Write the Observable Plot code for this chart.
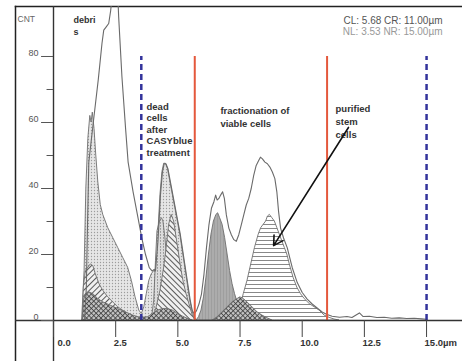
<!DOCTYPE html>
<html>
<head>
<meta charset="utf-8">
<script src="https://cdn.jsdelivr.net/npm/d3@7"></script>
<script src="https://cdn.jsdelivr.net/npm/@observablehq/plot@0.6"></script>
<style>
  html, body { margin: 0; padding: 0; background: #fff; }
  #chart { position: absolute; left: 0; top: 0; }
</style>
</head>
<body>
<svg width="0" height="0" style="position:absolute">
  <defs>
    <pattern id="dots" width="3" height="3" patternUnits="userSpaceOnUse">
      <rect width="3" height="3" fill="#e6e6e6"/>
      <circle cx="1.5" cy="1.5" r="0.65" fill="#9c9c9c"/>
    </pattern>
    <pattern id="vdots" width="3" height="3" patternUnits="userSpaceOnUse">
      <rect width="3" height="3" fill="#dcdcdc"/>
      <rect x="1" y="0" width="0.8" height="1.8" fill="#8a8a8a"/>
    </pattern>
    <pattern id="diagA" width="4" height="4" patternUnits="userSpaceOnUse" patternTransform="rotate(45)">
      <rect width="4" height="4" fill="#f0f0f0"/>
      <line x1="0.5" y1="0" x2="0.5" y2="4" stroke="#5a5a5a" stroke-width="1"/>
    </pattern>
    <pattern id="diagB" width="4" height="4" patternUnits="userSpaceOnUse" patternTransform="rotate(-45)">
      <rect width="4" height="4" fill="#f0f0f0"/>
      <line x1="0.5" y1="0" x2="0.5" y2="4" stroke="#5a5a5a" stroke-width="1"/>
    </pattern>
    <pattern id="cross" width="3.4" height="3.4" patternUnits="userSpaceOnUse" patternTransform="rotate(45)">
      <rect width="3.4" height="3.4" fill="#c4c4c4"/>
      <path d="M0 0.5H3.4M0.5 0V3.4" stroke="#3a3a3a" stroke-width="0.8"/>
    </pattern>
    <pattern id="vlines" width="3" height="3" patternUnits="userSpaceOnUse">
      <rect width="3" height="3" fill="#acacac"/>
      <line x1="1.5" y1="0" x2="1.5" y2="3" stroke="#9a9a9a" stroke-width="0.8"/>
    </pattern>
    <pattern id="hlines" width="4" height="4" patternUnits="userSpaceOnUse">
      <rect width="4" height="4" fill="#ffffff"/>
      <line x1="0" y1="0.5" x2="4" y2="0.5" stroke="#7a7a7a" stroke-width="0.9"/>
    </pattern>
  </defs>
</svg>
<div id="chart"></div>
<script>
// ---- data ----
const xTicks = [0, 2.5, 5, 7.5, 10, 12.5, 15];
const xTickLabels = ["0.0", "2.5", "5.0", "7.5", "10.0", "12.5", "15.0µm"];
const yMajorTicks = [0, 20, 40, 60, 80];
const yMinorTicks = [10, 30, 50, 70];

const gateNL = 3.53, gateCL = 5.68, gateCR = 11.00, gateNR = 15.00;
const gateText1 = "CL: 5.68 CR: 11.00µm";
const gateText2 = "NL: 3.53 NR: 15.00µm";

// total / debris outline
const totalCurve = [
  [1.25,0],[1.32,10],[1.37,30],[1.42,48],[1.6,60],[1.8,73],[1.95,84],[2.02,88],[2.12,89],[2.22,90],
  [2.3,94],[2.38,100],[2.45,105],[2.55,105],[2.62,92],[2.75,74],[2.9,58],[3.0,48],[3.2,39],[3.4,31],
  [3.55,25],[3.7,20],[3.85,16],[3.97,15],[4.05,15.5],[4.1,15],[4.2,24],[4.3,38],[4.38,45],[4.45,47.5],
  [4.52,47.5],[4.6,46],[4.7,42],[4.8,38],[4.9,34],[5.0,30],[5.1,26],[5.2,21],[5.3,16],[5.4,11],
  [5.5,6],[5.58,3],[5.66,2],[5.75,3],[5.85,5],[5.95,8],[6.05,14],[6.15,22],[6.25,29],[6.35,34],
  [6.45,36],[6.52,38],[6.58,36.5],[6.65,37],[6.72,38],[6.8,39],[6.87,37],[6.95,32],[7.05,28],[7.15,26],
  [7.25,24.5],[7.35,24],[7.45,26],[7.55,29],[7.65,32],[7.75,35],[7.85,37],[7.95,40],[8.05,44],[8.15,47],
  [8.25,48.5],[8.32,49.5],[8.4,49],[8.5,48],[8.6,47.5],[8.7,46.5],[8.8,45],[8.9,43],[8.98,39],[9.05,33],
  [9.13,28],[9.25,25],[9.4,22],[9.5,19],[9.6,16],[9.8,11.5],[10.0,8.5],[10.2,6.5],[10.4,5],[10.6,3.8],
  [10.8,2.6],[11.0,1.8],[11.2,1.3],[11.5,1.0],[11.8,1.2],[12.0,0.9],[12.15,1.6],[12.3,2.3],[12.45,1.2],[12.7,1.3],
  [13.0,0.9],[13.3,1.0],[13.6,0.7],[13.9,0.8],[14.2,0.6],[14.5,0.7],[14.8,0.5],[15.0,0.4]
];
// dead-cell measurement (dotted fill)
const deadCurve = [
  [1.15,0],[1.25,15],[1.32,40],[1.4,55],[1.48,62],[1.53,60],[1.58,63],[1.65,58],[1.72,50],[1.8,42],
  [1.9,35],[2.0,32],[2.2,28],[2.4,25],[2.6,22],[2.8,19],[3.0,16],[3.15,12],[3.3,7],[3.45,3],
  [3.55,2],[3.65,4],[3.75,8],[3.85,12],[3.95,14],[4.05,15],[4.12,15],[4.2,24],[4.3,38],[4.38,45],
  [4.45,47.5],[4.52,47.5],[4.6,46],[4.7,42],[4.8,38],[4.9,34],[5.0,30],[5.1,26],[5.2,21],[5.3,16],
  [5.4,11],[5.5,6],[5.6,2.5],[5.7,0.5],[5.8,0]
];
const debrisHatch = [
  [1.18,0],[1.22,10],[1.3,15],[1.4,16],[1.5,17],[1.6,16.5],[1.7,14],[1.85,11],[2.0,9],[2.2,7],
  [2.4,5.5],[2.6,4],[2.8,3],[3.0,2],[3.2,1.2],[3.4,0.5],[3.6,0]
];
const lowCross = [
  [1.18,0],[1.22,6],[1.3,8],[1.45,8.5],[1.6,8],[1.8,6.5],[2.0,5.5],[2.3,4.5],[2.6,3.5],[2.9,2.5],
  [3.2,1.5],[3.5,0.8],[3.8,1],[4.0,2],[4.2,3],[4.4,3.5],[4.6,3.5],[4.8,3],[5.0,2],[5.2,1.2],[5.4,0.5],[5.6,0]
];
const deadPeakA = [
  [3.95,0],[4.05,6],[4.12,18],[4.18,27],[4.28,30],[4.36,31],[4.42,30],[4.5,25],[4.58,18],[4.7,12],
  [4.85,7],[5.0,4],[5.2,2],[5.4,0.5],[5.5,0]
];
const deadPeakB = [
  [4.0,0],[4.15,4],[4.3,9],[4.45,16],[4.55,22],[4.65,29],[4.75,32],[4.85,30],[4.95,25],[5.05,20],
  [5.15,15],[5.25,11],[5.35,8],[5.5,4],[5.6,1.5],[5.7,0]
];
const viableGray = [
  [5.75,0],[5.85,1],[5.95,3],[6.05,7],[6.15,13],[6.25,20],[6.35,26],[6.45,30],[6.55,32],[6.62,32.5],
  [6.7,31],[6.8,29],[6.9,25],[7.0,20],[7.1,15],[7.2,11],[7.3,8],[7.4,5.5],[7.5,3.5],[7.6,2],[7.75,1],[7.9,0]
];
const viableHill = [
  [6.4,0],[6.6,1],[6.8,2.5],[7.0,4],[7.2,5.5],[7.4,6.5],[7.5,7],[7.6,6.8],[7.8,5.5],[8.0,4],
  [8.2,2.5],[8.4,1.5],[8.6,0.7],[8.8,0]
];
const stemStriped = [
  [7.0,0],[7.2,1.5],[7.4,3],[7.55,5],[7.65,8],[7.8,12],[7.95,17],[8.1,22],[8.25,26],[8.35,28],
  [8.45,29],[8.55,30],[8.62,31.5],[8.7,32],[8.8,31],[8.9,30],[9.0,28],[9.1,26],[9.2,24],[9.3,22],
  [9.4,20],[9.5,17],[9.65,13],[9.8,10],[9.95,8],[10.1,6.5],[10.3,5],[10.5,4],[10.7,3],[10.9,1.5],
  [11.1,0.8],[11.3,0.3],[11.5,0]
];

const labelDebris = "debri\ns";
const labelDead = "dead\ncells\nafter\nCASYblue\ntreatment";
const labelViable = "fractionation of\nviable cells";
const labelStem = "purified\nstem\ncells";

// ---- chart ----
const grayStroke = "#6e6e6e";
const area = (data, fill) => Plot.areaY(data, {x: d => d[0], y: d => d[1], fill, stroke: grayStroke, strokeWidth: 0.9, clip: true});

const chart = Plot.plot({
  width: 462,
  height: 361,
  marginLeft: 15,
  marginRight: 0,
  marginTop: 6,
  marginBottom: 0,
  x: {domain: [-1.528, 16.445], axis: null},
  y: {domain: [-12.42, 95.15], axis: null},
  style: {fontFamily: "'Liberation Sans', Arial, sans-serif", background: "#fff"},
  marks: [
    // frame pieces
    Plot.frame({anchor: "left", stroke: "#222", strokeWidth: 1.5}),
    Plot.frame({anchor: "top", stroke: "#222", strokeWidth: 1.5}),
    // filled distributions
    area(deadCurve, "url(#dots)"),
    area(debrisHatch, "url(#diagA)"),
    area(deadPeakA, "url(#vdots)"),
    area(deadPeakB, "url(#diagB)"),
    area(lowCross, "url(#cross)"),
    area(viableGray, "url(#vlines)"),
    area(stemStriped, "url(#hlines)"),
    area(viableHill, "url(#cross)"),
    // outline of total measurement
    Plot.line(totalCurve, {x: d => d[0], y: d => d[1], stroke: "#6a6a6a", strokeWidth: 1.1, clip: true}),
    // gates
    Plot.ruleX([gateNL, gateNR], {y1: 0, y2: 80, stroke: "#33339c", strokeWidth: 2.5, strokeDasharray: "6,4"}),
    Plot.ruleX([gateCL, gateCR], {y1: 0, y2: 80, stroke: "#e4583c", strokeWidth: 2}),
    // axes lines
    Plot.ruleX([0], {stroke: "#333", strokeWidth: 1.4}),
    Plot.ruleY([0], {stroke: "#333", strokeWidth: 1.6}),
    // y ticks
    Plot.ruleY(yMajorTicks, {y: d => d, x1: -0.48, x2: 0, stroke: "#555", strokeWidth: 1}),
    Plot.ruleY(yMinorTicks, {y: d => d, x1: -0.26, x2: 0, stroke: "#555", strokeWidth: 1}),
    Plot.text(yMajorTicks, {y: d => d, frameAnchor: "left", dx: 23, dy: -3, textAnchor: "end", text: d => String(d), fontSize: 9, fill: "#555"}),
    // x ticks
    Plot.ruleX(xTicks, {x: d => d, y1: 0, y2: -5.15, stroke: "#444", strokeWidth: 1}),
    Plot.text(xTicks.slice(0, 1), {x: d => d, frameAnchor: "bottom", dy: -16, dx: 4, textAnchor: "start", text: (d, i) => xTickLabels[i], fontSize: 9.5, fontWeight: "bold", fill: "#333"}),
    Plot.text(xTicks.slice(1), {x: d => d, frameAnchor: "bottom", dy: -16, dx: -2, textAnchor: "start", text: (d, i) => xTickLabels[i + 1], fontSize: 9.5, fontWeight: "bold", fill: "#333"}),
    // header texts
    Plot.text(["CNT"], {frameAnchor: "top-left", dx: 2, dy: 9, textAnchor: "start", fontSize: 8.5, fill: "#666"}),
    Plot.text([gateText1], {frameAnchor: "top-right", dx: -20, dy: 10, textAnchor: "end", fontSize: 10, fill: "#555"}),
    Plot.text([gateText2], {frameAnchor: "top-right", dx: -20, dy: 21, textAnchor: "end", fontSize: 10, fill: "#999"}),
    // annotations
    Plot.text([labelDebris], {x: 0.8, y: 92.7, text: d => d, lineAnchor: "top", textAnchor: "start", fontSize: 9, fontWeight: "bold", fill: "#333", lineHeight: 1.3}),
    Plot.text([labelDead], {x: 3.74, y: 66.4, text: d => d, lineAnchor: "top", textAnchor: "start", fontSize: 9.5, fontWeight: "bold", fill: "#333", lineHeight: 1.22}),
    Plot.text([labelViable], {x: 6.71, y: 65.5, text: d => d, lineAnchor: "top", textAnchor: "start", fontSize: 9.5, fontWeight: "bold", fill: "#333", lineHeight: 1.4}),
    Plot.text([labelStem], {x: 11.34, y: 65.8, text: d => d, lineAnchor: "top", textAnchor: "start", fontSize: 9.5, fontWeight: "bold", fill: "#333", lineHeight: 1.35}),
    Plot.arrow([[11.86, 58.5, 8.85, 22.7]], {x1: d => d[0], y1: d => d[1], x2: d => d[2], y2: d => d[3], stroke: "#111", strokeWidth: 1.6, headLength: 10, bend: false})
  ]
});
document.getElementById("chart").appendChild(chart);
</script>
</body>
</html>
